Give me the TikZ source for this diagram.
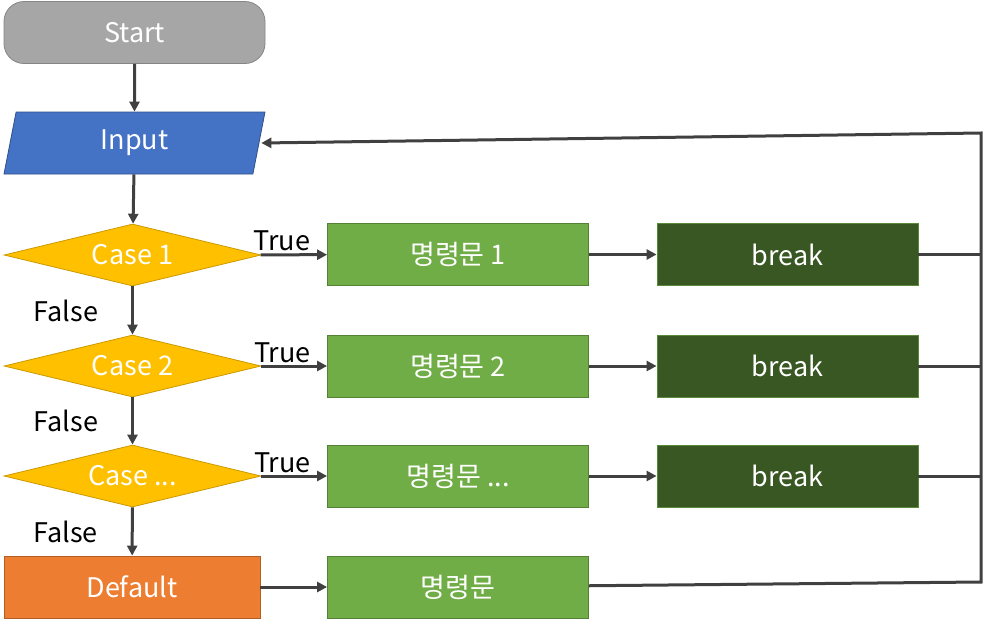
\documentclass[tikz,border=0pt]{standalone}
\usepackage{fontspec}
\setmainfont{Noto Sans CJK KR}
\usetikzlibrary{shapes.geometric,arrows.meta,positioning}

\definecolor{startgray}{HTML}{A6A6A6}
\definecolor{inputblue}{HTML}{4472C4}
\definecolor{caseyellow}{HTML}{FFC000}
\definecolor{cmdgreen}{HTML}{70AD47}
\definecolor{breakgreen}{HTML}{385723}
\definecolor{defaultorange}{HTML}{ED7D31}
\definecolor{linegray}{HTML}{404040}

\begin{document}
\begin{tikzpicture}[x=1pt,y=-1pt,
    every node/.style={font=\fontsize{27}{31}\selectfont, text=white, inner sep=0pt},
    block/.style={rectangle, minimum width=261pt, minimum height=62pt, line width=0.8pt},
    startbox/.style={block, rounded corners=20pt, fill=startgray, draw=startgray!80!black},
    inputbox/.style={trapezium, trapezium left angle=65, trapezium right angle=115,
        trapezium stretches body, minimum width=261pt, minimum height=62pt,
        line width=0.8pt, fill=inputblue, draw=inputblue!70!black},
    casebox/.style={diamond, shape aspect=4, minimum width=257pt, minimum height=62pt,
        line width=0.8pt, fill=caseyellow, draw=caseyellow!80!black},
    cmdbox/.style={block, fill=cmdgreen, draw=cmdgreen!75!black},
    breakbox/.style={block, fill=breakgreen, draw=cmdgreen!80!black},
    defaultbox/.style={block, minimum width=256pt, fill=defaultorange, draw=defaultorange!75!black},
    flow/.style={draw=linegray, line width=3pt, line join=miter,
        -{Triangle[length=10pt,width=10pt]}},
    link/.style={draw=linegray, line width=3pt},
    tag/.style={text=black}
  ]
  \useasboundingbox (0,0) rectangle (989,625);

  % left column
  \node[startbox]   (start)   at (134.5,32.5) {Start};
  \node[inputbox]   (input)   at (134.5,143)  {\raisebox{-3pt}{Input}};
  \node[casebox]    (case1)   at (132.5,255)  {Case 1};
  \node[casebox]    (case2)   at (132.5,366)  {Case 2};
  \node[casebox]    (case3)   at (132.5,476)  {Case ...};
  \node[defaultbox] (default) at (132,587)    {Default};

  % statements and breaks
  \node[cmdbox]   (cmd1) at (458,254.5) {명령문 1};
  \node[cmdbox]   (cmd2) at (458,366)   {명령문 2};
  \node[cmdbox]   (cmd3) at (458,476)   {명령문 ...};
  \node[cmdbox]   (cmd4) at (458,587)   {명령문};
  \node[breakbox] (brk1) at (787.5,254.5) {break};
  \node[breakbox] (brk2) at (787.5,366)   {break};
  \node[breakbox] (brk3) at (787.5,476)   {break};

  \coordinate (looptop) at (981,133);
  \coordinate (loopbot) at (981,582);

  \draw[flow] (start) -- (input);
  \draw[flow] (input) -- (case1);
  \draw[flow] (case1) -- node[tag, left=33pt] {False} (case2);
  \draw[flow] (case2) -- node[tag, left=33pt] {False} (case3);
  \draw[flow] (case3) -- node[tag, left=33pt] {False} (default);

  \foreach \i in {1,2,3} {
    \draw[flow] (case\i) -- node[tag, pos=0.32, above=2pt] {True} (cmd\i);
    \draw[flow] (cmd\i) -- (brk\i);
    \draw[link] (brk\i) -- (brk\i -| looptop);
  }
  \draw[flow] (default) -- (cmd4);
  \draw[flow] (cmd4) -- (loopbot) -- (looptop) -- ([xshift=2pt]input.east);
\end{tikzpicture}
\end{document}
